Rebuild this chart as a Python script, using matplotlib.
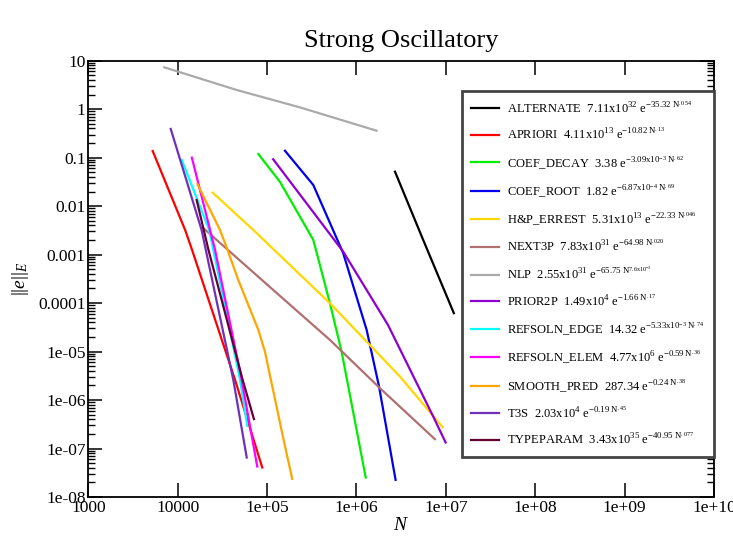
import matplotlib
matplotlib.use("Agg")
import matplotlib.pyplot as plt

plt.rcParams['font.family'] = ['Liberation Serif', 'DejaVu Serif']
plt.rcParams['mathtext.fontset'] = 'custom'
plt.rcParams['mathtext.rm'] = 'Liberation Serif'
plt.rcParams['mathtext.it'] = 'Liberation Serif:italic'

# values (N, ||e||_E)
alternate_n = [2.70e6, 5.58e6, 1.23e7]
alternate_err = [5.14e-2, 2.01e-3, 6.2e-5]
apriori_n = [5250, 1.21e4, 1.44e4, 4.38e4, 8.83e4]
apriori_err = [0.137, 3.23e-3, 1.29e-3, 2.61e-6, 4.06e-8]
coef_decay_n = [7.98e4, 1.39e5, 3.29e5, 5.05e5, 6.82e5, 1.27e6]
coef_decay_err = [0.119, 0.032, 2.01e-3, 9.95e-5, 1.0e-5, 2.52e-8]
coef_root_n = [1.585e5, 3.29e5, 7.11e5, 1.30e6, 1.79e6, 2.74e6]
coef_root_err = [0.139, 0.0273, 1.07e-3, 2.80e-5, 1.90e-6, 2.26e-8]
hp_errest_n = [2.46e4, 7.01e4, 5.05e5, 3.07e6, 9.20e6]
hp_errest_err = [0.0190, 3.23e-3, 9.95e-5, 3.05e-6, 2.76e-7]
next3p_n = [1.92e4, 1.17e5, 5.05e5, 1.83e6, 7.55e6]
next3p_err = [3.56e-3, 1.87e-4, 1.74e-5, 1.76e-6, 1.56e-7]
nlp_n = [7080, 4.57e4, 2.33e5, 1.68e6]
nlp_err = [7.31, 2.49, 1.09, 0.36]
prior2p_n = [1.17e5, 7.11e5, 2.25e6, 7.23e6, 9.95e6]
prior2p_err = [0.0927, 1.15e-3, 3.56e-5, 4.57e-7, 1.33e-7]
refsoln_edge_n = [1.11e4, 2.25e4, 4.98e4, 6.01e4]
refsoln_edge_err = [0.0897, 3.23e-3, 2.61e-6, 2.94e-7]
refsoln_elem_n = [1.44e4, 2.61e4, 5.20e4, 7.76e4]
refsoln_elem_err = [0.100, 1.29e-3, 2.61e-6, 4.26e-8]
smooth_pred_n = [1.66e4, 2.97e4, 3.59e4, 4.76e4, 7.98e4, 9.46e4, 1.50e5, 1.91e5]
smooth_pred_err = [0.0287, 3.23e-3, 1.29e-3, 3.0e-4, 2.80e-5, 1.0e-5, 1.8e-7, 2.37e-8]
t3s_n = [8360, 1.85e4, 4.19e4, 5.92e4]
t3s_err = [0.391, 3.23e-3, 2.61e-6, 6.52e-8]
typeparam_n = [1.63e4, 2.20e4, 5.33e4, 7.13e4]
typeparam_err = [0.0134, 1.29e-3, 2.61e-6, 4.04e-7]

labels = [
    r"ALTERNATE  7.11x10$^{32}$ e$^{-35.32\ \mathrm{N}^{.054}}$",
    r"APRIORI  4.11x10$^{13}$ e$^{-10.82\ \mathrm{N}^{.13}}$",
    r"COEF_DECAY  3.38 e$^{-3.09\mathrm{x}10^{-3}\ \mathrm{N}^{.62}}$",
    r"COEF_ROOT  1.82 e$^{-6.87\mathrm{x}10^{-4}\ \mathrm{N}^{.69}}$",
    r"H&P_ERREST  5.31x10$^{13}$ e$^{-22.33\ \mathrm{N}^{.046}}$",
    r"NEXT3P  7.83x10$^{31}$ e$^{-64.98\ \mathrm{N}^{.020}}$",
    r"NLP  2.55x10$^{31}$ e$^{-65.75\ \mathrm{N}^{7.6\mathrm{x}10^{-3}}}$",
    r"PRIOR2P  1.49x10$^{4}$ e$^{-1.66\ \mathrm{N}^{.17}}$",
    r"REFSOLN_EDGE  14.32 e$^{-5.33\mathrm{x}10^{-3}\ \mathrm{N}^{.74}}$",
    r"REFSOLN_ELEM  4.77x10$^{6}$ e$^{-0.59\ \mathrm{N}^{.36}}$",
    r"SMOOTH_PRED  287.34 e$^{-0.24\ \mathrm{N}^{.38}}$",
    r"T3S  2.03x10$^{4}$ e$^{-0.19\ \mathrm{N}^{.45}}$",
    r"TYPEPARAM  3.43x10$^{35}$ e$^{-40.95\ \mathrm{N}^{.077}}$",
]
colors = ['black', '#ff0000', '#00ee00', '#0000ee', '#ffd700', '#b07070',
          '#aaaaaa', '#8e00d0', '#00ffff', '#ff00ff', '#ffa500', '#7030b8',
          '#660033']

series = [
    (alternate_n, alternate_err), (apriori_n, apriori_err),
    (coef_decay_n, coef_decay_err), (coef_root_n, coef_root_err),
    (hp_errest_n, hp_errest_err), (next3p_n, next3p_err),
    (nlp_n, nlp_err), (prior2p_n, prior2p_err),
    (refsoln_edge_n, refsoln_edge_err), (refsoln_elem_n, refsoln_elem_err),
    (smooth_pred_n, smooth_pred_err), (t3s_n, t3s_err),
    (typeparam_n, typeparam_err),
]

xticks = [1e3, 1e4, 1e5, 1e6, 1e7, 1e8, 1e9, 1e10]
xticklabels = ['1000', '10000', '1e+05', '1e+06', '1e+07', '1e+08', '1e+09', '1e+10']
yticks = [1e-8, 1e-7, 1e-6, 1e-5, 1e-4, 1e-3, 1e-2, 1e-1, 1, 10]
yticklabels = ['1e-08', '1e-07', '1e-06', '1e-05', '0.0001', '0.001', '0.01', '0.1', '1', '10']

fig = plt.figure(figsize=(7.33, 5.44), dpi=100)
ax = fig.add_axes([0.1205, 0.0864, 0.8535, 0.802])

for (n, err), lab, c in zip(series, labels, colors):
    ax.plot(n, err, color=c, lw=1.6, label=lab)

ax.set_xscale('log')
ax.set_yscale('log')
ax.set_xlim(1e3, 1e10)
ax.set_ylim(1e-8, 10)
ax.set_xticks(xticks)
ax.set_xticklabels(xticklabels)
ax.xaxis.set_minor_locator(matplotlib.ticker.NullLocator())
ax.set_yticks(yticks)
ax.set_yticklabels(yticklabels)
ax.yaxis.set_minor_locator(matplotlib.ticker.LogLocator(base=10, subs=range(2, 10), numticks=20))
ax.yaxis.set_minor_formatter(matplotlib.ticker.NullFormatter())
ax.tick_params(which='major', direction='in', length=10, width=1.1, top=True, right=True,
               labelsize=12.5, pad=2)
ax.tick_params(which='minor', direction='in', length=5, width=1, right=True)
for s in ax.spines.values():
    s.set_linewidth(1.3)

ax.set_title("Strong Oscillatory", fontsize=19, pad=10)
ax.set_xlabel(r"$N$", fontsize=14, labelpad=1)
ax.set_ylabel(r"$||e||_E$", fontsize=14, labelpad=5)

leg = ax.legend(loc='upper left', bbox_to_anchor=(0.597, 0.0917, 0.403, 0.8388),
                mode='expand', fontsize=9, frameon=True, fancybox=False,
                handlelength=2.2, handletextpad=0.7, labelspacing=0.92,
                borderpad=0.75, borderaxespad=0)
leg.get_frame().set_edgecolor('#444444')
leg.get_frame().set_linewidth(2)
leg.get_frame().set_alpha(1)

fig.savefig("out.png", dpi=100)
